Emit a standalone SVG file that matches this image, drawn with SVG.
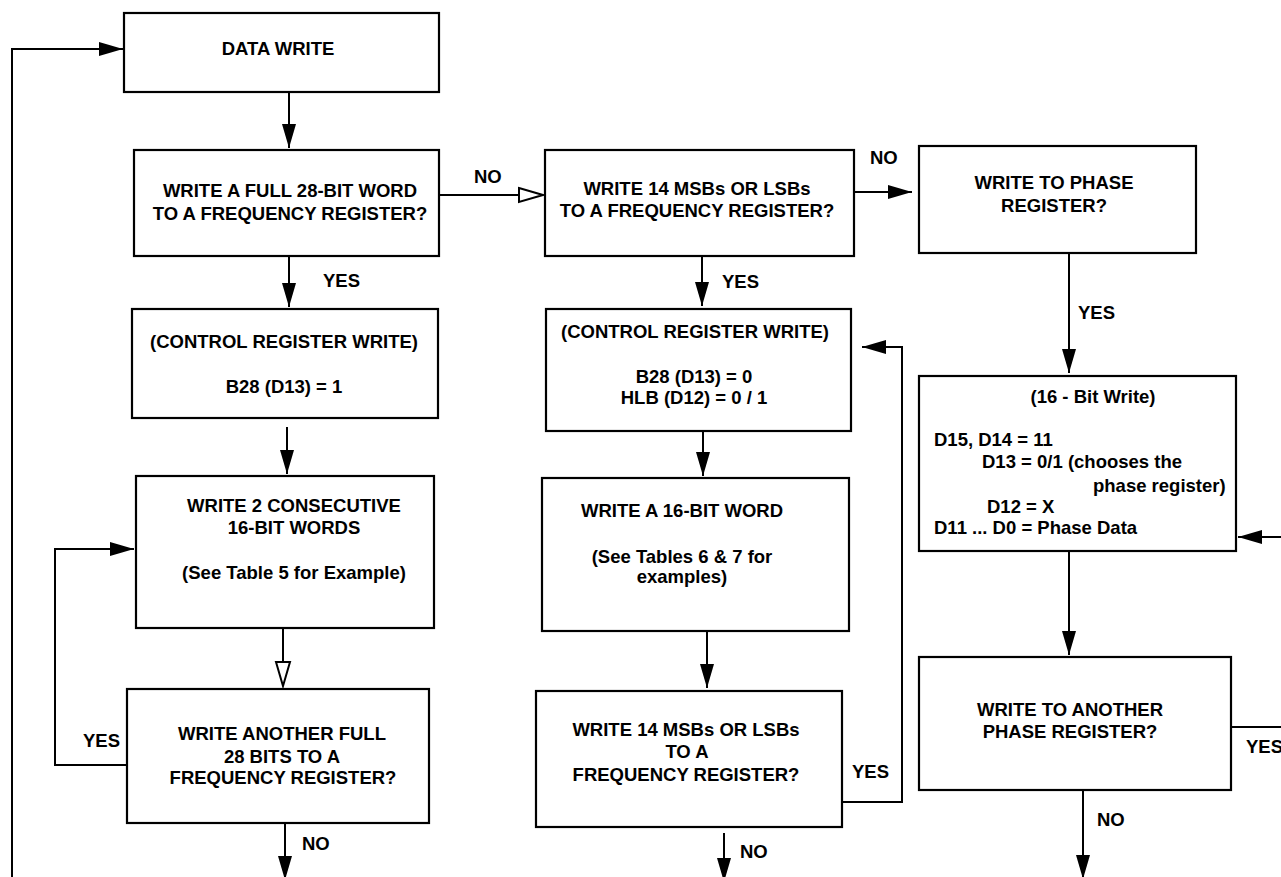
<svg xmlns="http://www.w3.org/2000/svg" width="1281" height="877" viewBox="0 0 1281 877">
<style>
.box{fill:#fff;stroke:#000;stroke-width:2.2}
.ln{fill:none;stroke:#000;stroke-width:2}
text{font-family:"Liberation Sans",Arial,Helvetica,sans-serif;font-weight:bold;font-size:18.5px;fill:#000}
.c{text-anchor:middle}
</style>
<defs>
<marker id="af" markerUnits="userSpaceOnUse" markerWidth="24" markerHeight="14" refX="24" refY="7" orient="auto">
<path d="M0,0 L24,7 L0,14 Z" fill="#000"/>
</marker>
<marker id="ah" markerUnits="userSpaceOnUse" markerWidth="27" markerHeight="18" refX="25" refY="9" orient="auto">
<path d="M1,2 L25,9 L1,16 Z" fill="#fff" stroke="#000" stroke-width="2"/>
</marker>
</defs>
<rect width="1281" height="877" fill="#fff"/>

<g id="connectors">
<polyline class="ln" points="12,880 12,49 123,49" marker-end="url(#af)"/>
<line class="ln" x1="289" y1="92" x2="289" y2="148" marker-end="url(#af)"/>
<line class="ln" x1="289" y1="256" x2="289" y2="307" marker-end="url(#af)"/>
<line class="ln" x1="287" y1="427" x2="287" y2="474" marker-end="url(#af)"/>
<line class="ln" x1="283" y1="628" x2="283" y2="686" marker-end="url(#ah)"/>
<polyline class="ln" points="127,765 55,765 55,549 134,549" marker-end="url(#af)"/>
<line class="ln" x1="285" y1="823" x2="285" y2="880" marker-end="url(#af)"/>
<line class="ln" x1="439" y1="195" x2="543" y2="195" marker-end="url(#ah)"/>
<line class="ln" x1="702" y1="256" x2="702" y2="306" marker-end="url(#af)"/>
<line class="ln" x1="854" y1="192" x2="912" y2="192" marker-end="url(#af)"/>
<line class="ln" x1="703" y1="431" x2="703" y2="476" marker-end="url(#af)"/>
<line class="ln" x1="707" y1="631" x2="707" y2="688" marker-end="url(#af)"/>
<polyline class="ln" points="842,802 902,802 902,347 862,347" marker-end="url(#af)"/>
<line class="ln" x1="724" y1="833" x2="724" y2="882" marker-end="url(#af)"/>
<line class="ln" x1="1069" y1="253" x2="1069" y2="373" marker-end="url(#af)"/>
<line class="ln" x1="1069" y1="551" x2="1069" y2="655" marker-end="url(#af)"/>
<line class="ln" x1="1083" y1="790" x2="1083" y2="879" marker-end="url(#af)"/>
<polyline class="ln" points="1231,727 1285,727 1285,537 1238,537" marker-end="url(#af)"/>
</g>

<g id="labels">
<text x="323" y="287">YES</text>
<text x="474" y="183">NO</text>
<text x="722" y="288">YES</text>
<text x="870" y="164">NO</text>
<text x="1078" y="319">YES</text>
<text x="83" y="747">YES</text>
<text x="302" y="850">NO</text>
<text x="852" y="778">YES</text>
<text x="740" y="858">NO</text>
<text x="1246" y="753">YES</text>
<text x="1097" y="826">NO</text>
</g>

<g id="data-write">
<rect class="box" x="124" y="13" width="315" height="79"/>
<text class="c" x="278" y="55">DATA WRITE</text>
</g>

<g id="full-word-q">
<rect class="box" x="134" y="150" width="305" height="106"/>
<text class="c" x="290" y="197">WRITE A FULL 28-BIT WORD</text>
<text class="c" x="290" y="220">TO A FREQUENCY REGISTER?</text>
</g>

<g id="ctrl-write-1">
<rect class="box" x="132" y="309" width="306" height="109"/>
<text class="c" x="284" y="348">(CONTROL REGISTER WRITE)</text>
<text class="c" x="284" y="393">B28 (D13) = 1</text>
</g>

<g id="two-words">
<rect class="box" x="136" y="476" width="298" height="152"/>
<text class="c" x="294" y="512">WRITE 2 CONSECUTIVE</text>
<text class="c" x="294" y="534">16-BIT WORDS</text>
<text class="c" x="294" y="579">(See Table 5 for Example)</text>
</g>

<g id="another-full-q">
<rect class="box" x="127" y="689" width="302" height="134"/>
<text class="c" x="282" y="740">WRITE ANOTHER FULL</text>
<text class="c" x="282" y="763">28 BITS TO A</text>
<text class="c" x="283" y="784">FREQUENCY REGISTER?</text>
</g>

<g id="msb-lsb-q">
<rect class="box" x="545" y="150" width="309" height="106"/>
<text class="c" x="697" y="195">WRITE 14 MSBs OR LSBs</text>
<text class="c" x="697" y="217">TO A FREQUENCY REGISTER?</text>
</g>

<g id="ctrl-write-2">
<rect class="box" x="546" y="309" width="305" height="122"/>
<text class="c" x="695" y="338">(CONTROL REGISTER WRITE)</text>
<text class="c" x="694" y="383">B28 (D13) = 0</text>
<text class="c" x="694" y="404">HLB (D12) = 0 / 1</text>
</g>

<g id="one-word">
<rect class="box" x="542" y="478" width="307" height="153"/>
<text class="c" x="682" y="517">WRITE A 16-BIT WORD</text>
<text class="c" x="682" y="563">(See Tables 6 &amp; 7 for</text>
<text class="c" x="682" y="583">examples)</text>
</g>

<g id="msb-lsb-again-q">
<rect class="box" x="536" y="691" width="306" height="136"/>
<text class="c" x="686" y="736">WRITE 14 MSBs OR LSBs</text>
<text class="c" x="687" y="758">TO A</text>
<text class="c" x="686" y="781">FREQUENCY REGISTER?</text>
</g>

<g id="phase-q">
<rect class="box" x="919" y="146" width="277" height="107"/>
<text class="c" x="1054" y="189">WRITE TO PHASE</text>
<text class="c" x="1054" y="212">REGISTER?</text>
</g>

<g id="phase-write">
<rect class="box" x="919" y="376" width="317" height="175"/>
<text class="c" x="1093" y="403">(16 - Bit Write)</text>
<text x="934" y="446">D15, D14 = 11</text>
<text x="982" y="468">D13 = 0/1 (chooses the</text>
<text x="1093" y="492">phase register)</text>
<text x="987" y="513">D12 = X</text>
<text x="934" y="534">D11 ... D0 = Phase Data</text>
</g>

<g id="another-phase-q">
<rect class="box" x="919" y="657" width="312" height="133"/>
<text class="c" x="1070" y="716">WRITE TO ANOTHER</text>
<text class="c" x="1070" y="738">PHASE REGISTER?</text>
</g>
</svg>
